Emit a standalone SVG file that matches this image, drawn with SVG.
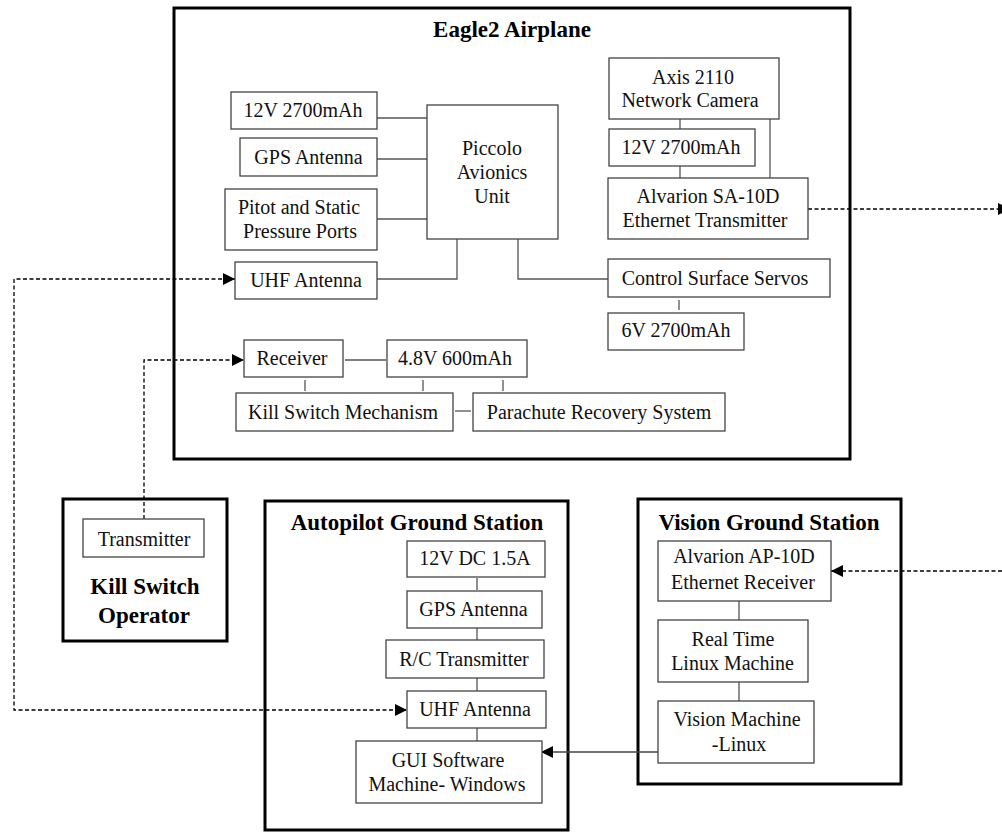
<svg xmlns="http://www.w3.org/2000/svg" width="1002" height="832" viewBox="0 0 1002 832">
<defs>
<marker id="ah" viewBox="0 0 12 12" refX="12" refY="6" markerWidth="12" markerHeight="12" markerUnits="userSpaceOnUse" orient="auto-start-reverse">
<path d="M0,0 L12,6 L0,12 Z" fill="#000"/>
</marker>
<style>
.grp{fill:#fff;stroke:#000;stroke-width:3}
.box{fill:#fff;stroke:#444;stroke-width:1.3}
.t{font-family:"Liberation Serif","Times New Roman",serif;font-size:20px;fill:#111;text-anchor:middle}
.h{font-family:"Liberation Serif","Times New Roman",serif;font-size:23px;font-weight:bold;fill:#000;text-anchor:middle}
.ln{fill:none;stroke:#555;stroke-width:1.3}
.ds{fill:none;stroke:#000;stroke-width:1.3;stroke-dasharray:4,2.5}
.sa{fill:none;stroke:#444;stroke-width:1.3}
</style>
</defs>
<rect width="1002" height="832" fill="#fff"/>

<g id="eagle2-airplane">
<rect class="grp" x="174" y="8" width="676" height="451"/>
<text class="h" x="512" y="37">Eagle2 Airplane</text>
</g>
<g id="kill-switch-operator">
<rect class="grp" x="63" y="499" width="164" height="142"/>
<text class="h" x="145" y="594">Kill Switch</text>
<text class="h" x="144" y="623">Operator</text>
</g>
<g id="autopilot-ground-station">
<rect class="grp" x="265" y="501" width="303" height="329"/>
<text class="h" x="417" y="530">Autopilot Ground Station</text>
</g>
<g id="vision-ground-station">
<rect class="grp" x="638" y="499" width="263" height="285"/>
<text class="h" x="769" y="530">Vision Ground Station</text>
</g>

<g id="connectors">
<path class="ln" d="M377,118 H427"/>
<path class="ln" d="M377,159 H427"/>
<path class="ln" d="M377,219 H427"/>
<path class="ln" d="M377,279 H457 V239"/>
<path class="ln" d="M518,239 V279 H608"/>
<path class="ln" d="M680,119 V129"/>
<path class="ln" d="M680,166 V178"/>
<path class="ln" d="M770,119 V178"/>
<path class="ln" d="M679,300 V310"/>
<path class="ln" d="M345,360 H386"/>
<path class="ln" d="M305,380 V391"/>
<path class="ln" d="M423,380 V391"/>
<path class="ln" d="M503,380 V391"/>
<path class="ln" d="M455,411 H471"/>
<path class="ln" d="M477,578 V590"/>
<path class="ln" d="M477,628 V640"/>
<path class="ln" d="M477,678 V691"/>
<path class="ln" d="M477,728 V741"/>
<path class="ln" d="M739,601 V620"/>
<path class="ln" d="M739,682 V701"/>
<path class="sa" d="M658,752 H541" marker-end="url(#ah)"/>
<path class="ds" d="M808,209 H1010" marker-end="url(#ah)"/>
<path class="ds" d="M1002,571 H831" marker-end="url(#ah)"/>
<path class="ds" d="M144,519 V360 H244" marker-end="url(#ah)"/>
<path class="ds" d="M235,279 H14 V710 H407" marker-start="url(#ah)" marker-end="url(#ah)"/>
</g>

<g id="battery-12v-a">
<rect class="box" x="231" y="92" width="146" height="37"/>
<text class="t" x="303" y="117">12V 2700mAh</text>
</g>
<g id="gps-antenna-air">
<rect class="box" x="240" y="138" width="137" height="38"/>
<text class="t" x="308.5" y="164">GPS Antenna</text>
</g>
<g id="pitot-static">
<rect class="box" x="225" y="189" width="152" height="61"/>
<text class="t" x="299" y="214">Pitot and Static</text>
<text class="t" x="300" y="238">Pressure Ports</text>
</g>
<g id="uhf-antenna-air">
<rect class="box" x="235" y="262" width="142" height="37"/>
<text class="t" x="306" y="287">UHF Antenna</text>
</g>
<g id="piccolo">
<rect class="box" x="427" y="105" width="131" height="134"/>
<text class="t" x="492" y="155">Piccolo</text>
<text class="t" x="492" y="179">Avionics</text>
<text class="t" x="492" y="203">Unit</text>
</g>
<g id="axis-camera">
<rect class="box" x="609" y="58" width="170" height="61"/>
<text class="t" x="693" y="84">Axis 2110</text>
<text class="t" x="690" y="107">Network Camera</text>
</g>
<g id="battery-12v-b">
<rect class="box" x="609" y="129" width="146" height="37"/>
<text class="t" x="681" y="154">12V 2700mAh</text>
</g>
<g id="alvarion-sa10d">
<rect class="box" x="608" y="178" width="200" height="61"/>
<text class="t" x="708" y="203">Alvarion SA-10D</text>
<text class="t" x="705" y="227">Ethernet Transmitter</text>
</g>
<g id="control-surface-servos">
<rect class="box" x="608" y="259" width="222" height="38"/>
<text class="t" x="715" y="285">Control Surface Servos</text>
</g>
<g id="battery-6v">
<rect class="box" x="608" y="313" width="136" height="37"/>
<text class="t" x="676" y="337">6V 2700mAh</text>
</g>
<g id="receiver">
<rect class="box" x="244" y="340" width="99" height="37"/>
<text class="t" x="292" y="365">Receiver</text>
</g>
<g id="battery-4-8v">
<rect class="box" x="387" y="340" width="140" height="37"/>
<text class="t" x="455" y="365">4.8V 600mAh</text>
</g>
<g id="kill-switch-mechanism">
<rect class="box" x="236" y="393" width="217" height="38"/>
<text class="t" x="343" y="419">Kill Switch Mechanism</text>
</g>
<g id="parachute">
<rect class="box" x="473" y="393" width="252" height="38"/>
<text class="t" x="599" y="419">Parachute Recovery System</text>
</g>

<g id="transmitter">
<rect class="box" x="83" y="519" width="121" height="38"/>
<text class="t" x="144" y="546">Transmitter</text>
</g>

<g id="dc-12v">
<rect class="box" x="407" y="541" width="138" height="36"/>
<text class="t" x="475" y="565">12V DC 1.5A</text>
</g>
<g id="gps-antenna-ground">
<rect class="box" x="407" y="591" width="135" height="37"/>
<text class="t" x="473.5" y="616">GPS Antenna</text>
</g>
<g id="rc-transmitter">
<rect class="box" x="386" y="640" width="158" height="38"/>
<text class="t" x="464" y="666">R/C Transmitter</text>
</g>
<g id="uhf-antenna-ground">
<rect class="box" x="407" y="691" width="139" height="37"/>
<text class="t" x="475" y="716">UHF Antenna</text>
</g>
<g id="gui-software">
<rect class="box" x="356" y="741" width="186" height="62"/>
<text class="t" x="448" y="767">GUI Software</text>
<text class="t" x="447" y="791">Machine- Windows</text>
</g>

<g id="alvarion-ap10d">
<rect class="box" x="658" y="541" width="173" height="60"/>
<text class="t" x="744" y="563">Alvarion AP-10D</text>
<text class="t" x="743" y="589">Ethernet Receiver</text>
</g>
<g id="real-time-linux">
<rect class="box" x="658" y="620" width="150" height="62"/>
<text class="t" x="733" y="646">Real Time</text>
<text class="t" x="732.5" y="670">Linux Machine</text>
</g>
<g id="vision-machine">
<rect class="box" x="658" y="701" width="156" height="62"/>
<text class="t" x="737" y="726">Vision Machine</text>
<text class="t" x="739" y="751">-Linux</text>
</g>
</svg>
